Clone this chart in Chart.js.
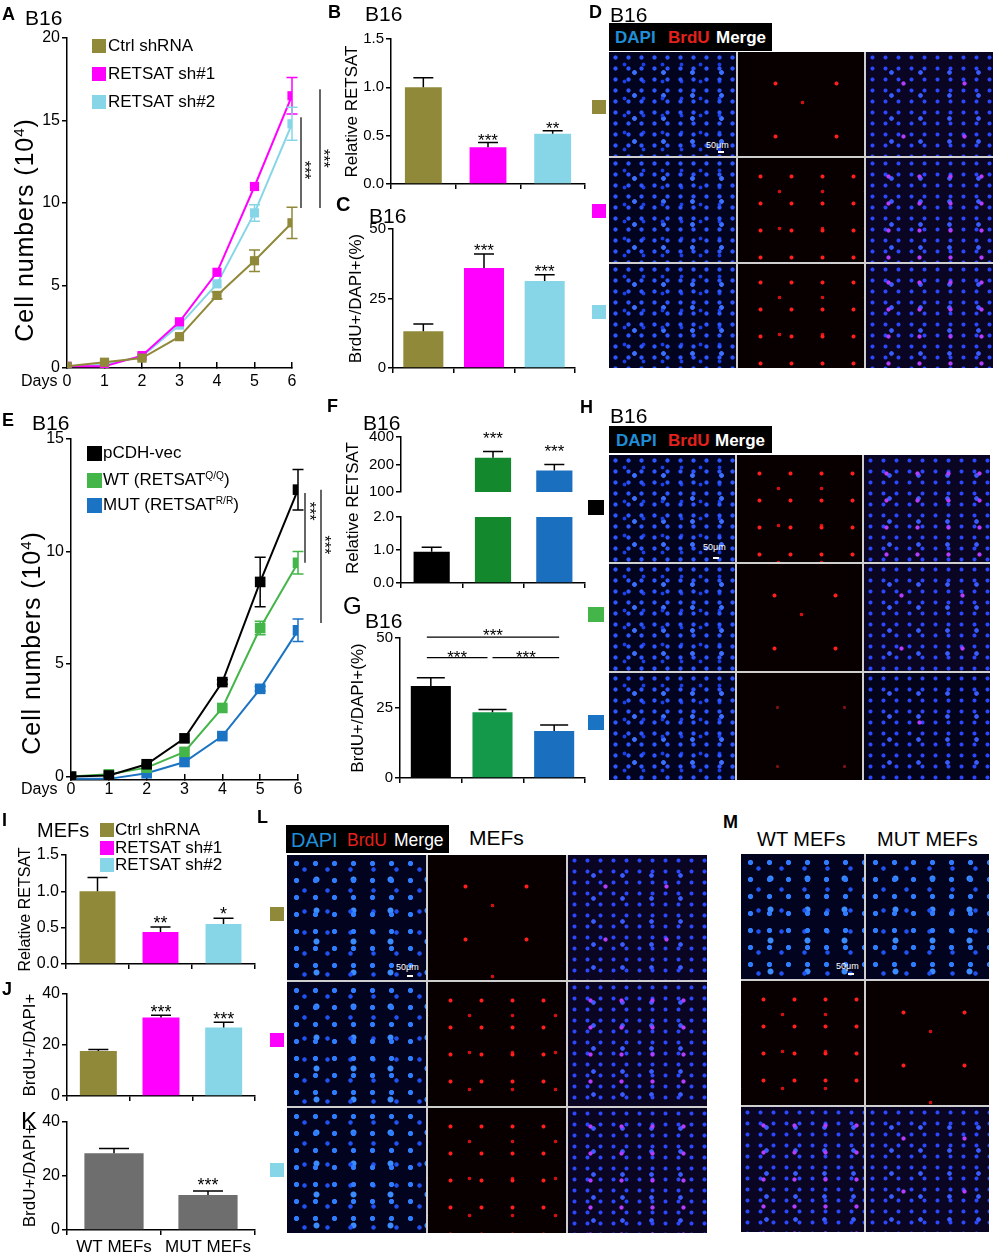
<!DOCTYPE html>
<html lang="en">
<head>
<meta charset="UTF-8">
<title>RETSAT - B16 and MEFs proliferation</title>
<script src="https://cdn.jsdelivr.net/npm/chart.js"></script>
<style>
  body { margin: 0; background: #fff; font-family: Arial, "Liberation Sans", Helvetica, sans-serif; color: #000; }
  #fig { position: relative; width: 996px; height: 1254px; overflow: hidden; }
  #fig canvas { position: absolute; }
  .lt { position: absolute; font-weight: bold; font-size: 18px; line-height: 1; }
  .lt.big { font-weight: normal; font-size: 24px; }
  .t { position: absolute; font-size: 21px; line-height: 1; white-space: nowrap; }
  .leg { position: absolute; font-size: 17px; line-height: 1; white-space: nowrap; }
  .leg sup, .vt sup { font-size: 60%; vertical-align: 0.55em; line-height: 0; }
  .sw { position: absolute; }
  .vt { position: absolute; font-size: 17px; line-height: 1; white-space: nowrap; transform: translate(-50%, -50%) rotate(-90deg); }
  .vt.big { font-size: 25px; letter-spacing: 0.9px; }
  .hdr { position: absolute; background: #000; }
  .hw { position: absolute; line-height: 1; white-space: nowrap; color: #fff; }
  .hw.d { color: #1f8fd8; }
  .hw.r { color: #e3211c; }
  .grid { position: absolute; display: grid; gap: 2px; background: #cfcfcf; }
  .cell { position: relative; overflow: hidden; }
  .sb { position: absolute; color: #fff; font-size: 9px; line-height: 1; }
  .sbl { position: absolute; width: 6px; height: 2px; background: #fff; }
  /* fluorescence tiles: plain styling only */
  .dapi { background-color: #02041f;
    background-image: radial-gradient(circle, #2c56ff 0 1.7px, transparent 2.5px),
                      radial-gradient(circle, #1b3ee6 0 1.5px, transparent 2.3px),
                      radial-gradient(circle, #3b70ff 0 2px, transparent 2.8px);
    background-size: 13px 11px, 19px 17px, 29px 23px;
    background-position: 0 0, 6px 4px, 11px 9px; }
  .dapi.big { background-image: radial-gradient(circle, #2f7dff 0 2.2px, transparent 3px),
                      radial-gradient(circle, #1f52f0 0 1.8px, transparent 2.6px),
                      radial-gradient(circle, #3a8cff 0 2.6px, transparent 3.4px);
    background-size: 19px 17px, 23px 21px, 37px 31px; }
  .brdu { background-color: #080000;
    background-image: radial-gradient(circle, #ff1f1f 0 1.6px, transparent 2.4px),
                      radial-gradient(circle, #d01010 0 1.4px, transparent 2.2px);
    background-size: 31px 27px, 43px 37px;
    background-position: 7px 5px, 20px 15px; }
  .brdu.lo { background-size: 61px 53px, 89px 71px; }
  .brdu.vlo { background-image: radial-gradient(circle, #801010 0 1.2px, transparent 2px); background-size: 67px 59px; }
  .merge { background-color: #0a0522;
    background-image: radial-gradient(circle, #b33cff 0 1.7px, transparent 2.5px),
                      radial-gradient(circle, #2c48ff 0 1.6px, transparent 2.4px),
                      radial-gradient(circle, #3a5cff 0 1.9px, transparent 2.7px);
    background-size: 31px 27px, 13px 11px, 29px 23px;
    background-position: 7px 5px, 0 0, 11px 9px; }
  .merge.lo { background-size: 61px 53px, 13px 11px, 29px 23px; }
  .merge.vlo { background-color: #03041c; background-size: 97px 89px, 13px 11px, 29px 23px; }
</style>
</head>
<body>
<div id="fig">
  <canvas id="cA" width="345" height="395" style="left:0;top:0"></canvas>
  <canvas id="cB" width="270" height="200" style="left:330px;top:0"></canvas>
  <canvas id="cC" width="270" height="185" style="left:330px;top:200px"></canvas>
  <canvas id="cE" width="345" height="400" style="left:0;top:400px"></canvas>
  <canvas id="cF1" width="270" height="103" style="left:330px;top:400px"></canvas>
  <canvas id="cF2" width="270" height="95" style="left:330px;top:505px"></canvas>
  <canvas id="cG" width="270" height="195" style="left:330px;top:600px"></canvas>
  <canvas id="cI" width="270" height="180" style="left:0;top:800px"></canvas>
  <canvas id="cJ" width="270" height="130" style="left:0;top:980px"></canvas>
  <canvas id="cK" width="270" height="144" style="left:0;top:1110px"></canvas>
</div>

<script>
// ---------- data ----------
const days = [0, 1, 2, 3, 4, 5, 6];

// A: B16 growth, shRNA
const shNames = ['Ctrl shRNA', 'RETSAT sh#1', 'RETSAT sh#2'];
const shColors = ['#8f8939', '#ff00ff', '#86d6e8'];
const ctrlGrowth = [0.1, 0.35, 0.6, 1.9, 4.4, 6.5, 8.8];
const ctrlGrowthErr = [0, 0, 0, 0, 0.2, 0.65, 0.95];
const sh1Growth = [0.1, 0.1, 0.75, 2.8, 5.8, 11.0, 16.5];
const sh1GrowthErr = [0, 0, 0, 0, 0, 0, 1.1];
const sh2Growth = [0.1, 0.2, 0.7, 2.6, 5.1, 9.4, 14.8];
const sh2GrowthErr = [0, 0, 0, 0, 0, 0.5, 1.0];
const ticksA = [0, 5, 10, 15, 20];

// B: relative RETSAT, C: BrdU+ (B16 shRNA)
const relB = [1.0, 0.38, 0.52];
const relBErr = [0.1, 0.05, 0.03];
const relBStars = ['', '***', '**'];
const ticksB = [0, 0.5, 1.0, 1.5];
const brduC = [13.2, 36, 31.3];
const brduCErr = [2.6, 5, 2.2];
const brduCStars = ['', '***', '***'];
const ticksC = [0, 25, 50];

// E: B16 growth, re-expression
const vecNames = ['pCDH-vec', 'WT (RETSAT<sup>Q/Q</sup>)', 'MUT (RETSAT<sup>R/R</sup>)'];
const vecColors = ['#000000', '#44b549', '#1b74c3'];
const vecGrowth = [0, 0.05, 0.55, 1.7, 4.2, 8.65, 12.75];
const vecGrowthErr = [0, 0, 0, 0, 0.1, 1.1, 0.9];
const wtGrowth = [0, 0.1, 0.4, 1.1, 3.05, 6.6, 9.5];
const wtGrowthErr = [0, 0, 0, 0, 0, 0.3, 0.5];
const mutGrowth = [-0.1, -0.1, 0.15, 0.65, 1.8, 3.9, 6.5];
const mutGrowthErr = [0, 0, 0, 0, 0, 0.1, 0.5];
const ticksE = [0, 5, 10, 15];

// F: relative RETSAT (broken axis), G: BrdU+
const barColorsF = ['#000000', '#13882c', '#1a6fbf'];
const barColorsG = ['#000000', '#14984a', '#1a6fbf'];
const relF = [0.95, 237, 172];
const relFErr = [0.13, 40, 28];
const relFStars = ['', '***', '***'];
const ticksFHigh = [100, 200, 400];
const ticksFLow = [0, 1.0, 2.0];
const brduG = [32.9, 23.5, 16.8];
const brduGErr = [2.9, 1.0, 2.1];
const ticksG = [0, 25, 50];

// I, J: MEFs shRNA; K: WT vs MUT MEFs
const relI = [1.0, 0.44, 0.55];
const relIErr = [0.19, 0.07, 0.08];
const relIStars = ['', '**', '*'];
const brduJ = [17.6, 30.8, 26.9];
const brduJErr = [0.6, 0.9, 2.0];
const brduJStars = ['', '***', '***'];
const mefNames = ['WT MEFs', 'MUT MEFs'];
const brduK = [28.3, 12.9];
const brduKErr = [1.8, 1.5];
const brduKStars = ['', '***'];
const ticks40 = [0, 20, 40];

// ---------- helpers ----------
const FONT = 'Arial, "Liberation Sans", sans-serif';
Chart.defaults.font.family = FONT;
Chart.defaults.color = '#000';
Chart.defaults.animation = false;
Chart.defaults.plugins.legend.display = false;
Chart.defaults.plugins.tooltip.enabled = false;

const val = d => (d !== null && typeof d === 'object') ? d.y : d;

// error bars (upper half only on bars) and significance stars above them
const errorBars = {
  id: 'errorBars',
  afterDatasetsDraw(chart, args, opts) {
    const { ctx, chartArea: a } = chart;
    const ys = chart.scales.y;
    chart.data.datasets.forEach((ds, i) => {
      const meta = chart.getDatasetMeta(i);
      const isBar = meta.type === 'bar';
      const hw = (opts.cap || 10) / 2;
      ctx.save();
      ctx.beginPath();
      ctx.rect(a.left - 20, a.top - 2, a.right - a.left + 40, a.bottom - a.top + 2);
      ctx.clip();
      ctx.strokeStyle = isBar ? '#000' : ds.borderColor;
      ctx.lineWidth = 1.5;
      (ds.err || []).forEach((e, j) => {
        if (!e) return;
        const v = val(ds.data[j]);
        const x = meta.data[j].x;
        const yTop = ys.getPixelForValue(v + e);
        const yBot = isBar ? ys.getPixelForValue(v) : ys.getPixelForValue(v - e);
        ctx.beginPath();
        ctx.moveTo(x, yBot); ctx.lineTo(x, yTop);
        ctx.moveTo(x - hw, yTop); ctx.lineTo(x + hw, yTop);
        if (!isBar) { ctx.moveTo(x - hw, yBot); ctx.lineTo(x + hw, yBot); }
        ctx.stroke();
      });
      ctx.restore();
      if (ds.stars) {
        const fs = opts.fs || 17;
        ctx.save();
        ctx.fillStyle = '#000';
        ctx.font = fs + 'px ' + FONT;
        ctx.textAlign = 'center';
        ctx.textBaseline = 'alphabetic';
        ds.stars.forEach((s, j) => {
          if (!s) return;
          const top = val(ds.data[j]) + ((ds.err && ds.err[j]) || 0);
          ctx.fillText(s, meta.data[j].x, ys.getPixelForValue(top) - (opts.gap || 4) + 0.43 * fs);
        });
        ctx.restore();
      }
    });
  }
};

// comparison brackets (vertical beside a line plot, horizontal over bars)
const sigMarks = {
  id: 'sigMarks',
  afterDraw(chart, args, opts) {
    if (!opts || (!opts.v && !opts.h)) return;
    const { ctx, chartArea: a, scales: { x, y } } = chart;
    ctx.save();
    ctx.strokeStyle = '#000';
    ctx.fillStyle = '#000';
    ctx.lineWidth = 1.2;
    ctx.font = (opts.fs || 16) + 'px ' + FONT;
    ctx.textAlign = 'center';
    (opts.v || []).forEach(m => {
      const px = a.right + m.dx;
      ctx.beginPath();
      ctx.moveTo(px, y.getPixelForValue(m.from));
      ctx.lineTo(px, y.getPixelForValue(m.to));
      ctx.stroke();
      ctx.save();
      ctx.translate(px + m.tdx, y.getPixelForValue(m.tv));
      ctx.rotate(Math.PI / 2);
      ctx.textBaseline = 'middle';
      ctx.fillText(m.text, 0, 0);
      ctx.restore();
    });
    (opts.h || []).forEach(m => {
      const x0 = x.getPixelForValue(m.i0) + (m.d0 || 0);
      const x1 = x.getPixelForValue(m.i1) + (m.d1 || 0);
      const py = y.getPixelForValue(m.v);
      ctx.beginPath();
      ctx.moveTo(x0, py); ctx.lineTo(x1, py);
      ctx.stroke();
      ctx.textBaseline = 'alphabetic';
      ctx.fillText(m.text, (x0 + x1) / 2, py - m.gap + 0.43 * (opts.fs || 16));
    });
    ctx.restore();
  }
};
Chart.register(errorBars, sigMarks);

function yAxis(o) {
  return {
    type: o.log ? 'logarithmic' : 'linear',
    min: o.min, max: o.max, bounds: 'data',
    afterFit: s => { s.width = o.w; },
    afterBuildTicks: s => { s.ticks = o.ticks.map(v => ({ value: v })); },
    border: { color: '#000', width: 1.5 },
    grid: { drawOnChartArea: false, color: '#000', lineWidth: 1.5, tickLength: 5 },
    ticks: { font: { size: o.fs || 15 }, padding: 2, color: '#000', callback: o.fmt || (v => v) },
    title: { display: !!o.title, text: o.title || '', color: '#000',
             font: { size: o.tfs || 17 }, padding: { top: o.tp || 4, bottom: 0 } }
  };
}

function xCat(h, o = {}) {
  const s = {
    display: o.display !== false,
    border: { color: '#000', width: 1.5 },
    grid: { drawOnChartArea: false, color: '#000', lineWidth: 1.5, tickLength: 5 },
    ticks: { display: !!o.labels, font: { size: o.fs || 17 }, padding: o.pad || 2, color: '#000' }
  };
  if (o.display !== false) s.afterFit = sc => { sc.height = h; };
  return s;
}

function bars(id, labels, vals, errs, stars, colors, o) {
  return new Chart(document.getElementById(id), {
    type: 'bar',
    data: { labels, datasets: [{ data: vals, err: errs, stars, backgroundColor: colors,
                                 barPercentage: o.bp, categoryPercentage: 1, clip: 0 }] },
    options: {
      responsive: false,
      layout: { padding: o.pad },
      scales: { x: o.x, y: o.y },
      plugins: { errorBars: { cap: o.cap || 20, gap: o.gap, fs: o.sfs || 17 }, sigMarks: o.sig || {} }
    }
  });
}

function growth(id, names, colors, series, errs, o) {
  return new Chart(document.getElementById(id), {
    type: 'line',
    data: {
      datasets: series.map((s, i) => ({
        label: names[i],
        data: days.map((d, j) => ({ x: d, y: s[j] })),
        err: errs[i],
        borderColor: colors[i], backgroundColor: colors[i], borderWidth: 2,
        pointStyle: 'rect', pointRadius: o.pr, pointBorderWidth: 0, pointBackgroundColor: colors[i]
      }))
    },
    options: {
      responsive: false,
      layout: { padding: o.pad },
      scales: {
        x: {
          type: 'linear', min: 0, max: 6, bounds: 'data',
          afterFit: s => { s.height = o.xh; },
          afterBuildTicks: s => { s.ticks = days.map(v => ({ value: v })); },
          border: { color: '#000', width: 1.5 },
          grid: { drawOnChartArea: false, color: '#000', lineWidth: 1.5, tickLength: -6 },
          ticks: { font: { size: 16 }, padding: o.xpad, color: '#000' }
        },
        y: yAxis(o.y)
      },
      plugins: { errorBars: { cap: 11 }, sigMarks: o.sig }
    }
  });
}

const fig = document.getElementById('fig');
const add = html => fig.insertAdjacentHTML('beforeend', html);
const fmt1 = v => Number(v).toFixed(1);

// ---------- charts ----------
growth('cA', shNames, shColors, [ctrlGrowth, sh1Growth, sh2Growth],
  [ctrlGrowthErr, sh1GrowthErr, sh2GrowthErr], {
    pr: 6.5, xh: 27, xpad: 10,
    pad: { top: 38, right: 53, left: 0, bottom: 0 },
    y: { min: 0, max: 20, ticks: ticksA, w: 67, fs: 16 },
    sig: { v: [
      { dx: 9, from: 15.2, to: 9.7, tdx: 2, tv: 12.0, text: '***' },
      { dx: 28, from: 16.9, to: 9.7, tdx: 2, tv: 12.7, text: '***' }
    ] }
  });

bars('cB', shNames, relB, relBErr, relBStars, shColors, {
  bp: 0.57, gap: 4, cap: 20,
  pad: { top: 39, right: 15, left: 0, bottom: 0 },
  x: xCat(16),
  y: yAxis({ min: 0, max: 1.5, ticks: ticksB, w: 61, fmt: fmt1, title: 'Relative RETSAT', tfs: 17, tp: 12 })
});

bars('cC', shNames, brduC, brduCErr, brduCStars, shColors, {
  bp: 0.66, gap: 5, cap: 20,
  pad: { top: 29, right: 25, left: 0, bottom: 0 },
  x: xCat(17),
  y: yAxis({ min: 0, max: 50, ticks: ticksC, w: 63, title: 'BrdU+/DAPI+(%)', tfs: 17, tp: 16 })
});

growth('cE', ['pCDH-vec', 'WT', 'MUT'], vecColors, [vecGrowth, wtGrowth, mutGrowth],
  [vecGrowthErr, wtGrowthErr, mutGrowthErr], {
    pr: 7.5, xh: 20, xpad: 6,
    pad: { top: 39, right: 47, left: 0, bottom: 0 },
    y: { min: -0.15, max: 15, ticks: ticksE, w: 71, fs: 16 },
    sig: { v: [
      { dx: 7, from: 12.6, to: 9.5, tdx: 3, tv: 11.8, text: '***' },
      { dx: 23, from: 12.74, to: 6.83, tdx: 2, tv: 10.3, text: '***' }
    ] }
  });

// F: same values on a log upper segment and a linear lower segment
bars('cF1', ['pCDH-vec', 'WT', 'MUT'], relF, relFErr, relFStars, barColorsF, {
  bp: 0.59, gap: 15, cap: 20,
  pad: { top: 37, right: 15, left: 0, bottom: 0 },
  x: xCat(0, { display: false }),
  y: yAxis({ log: true, min: 100, max: 400, ticks: ticksFHigh, w: 71 })
});
bars('cF2', ['pCDH-vec', 'WT', 'MUT'], relF, relFErr, null, barColorsF, {
  bp: 0.59, cap: 20,
  pad: { top: 12, right: 15, left: 0, bottom: 0 },
  x: xCat(17),
  y: yAxis({ min: 0, max: 2, ticks: ticksFLow, w: 71, fmt: fmt1 })
});

bars('cG', ['pCDH-vec', 'WT', 'MUT'], brduG, brduGErr, null, barColorsG, {
  bp: 0.65, cap: 28,
  pad: { top: 38, right: 15, left: 0, bottom: 0 },
  x: xCat(17),
  y: yAxis({ min: 0, max: 50, ticks: ticksG, w: 70, title: 'BrdU+/DAPI+(%)', tfs: 17, tp: 18 }),
  sig: { fs: 17, h: [
    { i0: 0, i1: 2, d0: -4, d1: 5, v: 50.3, gap: 3, text: '***' },
    { i0: 0, i1: 1, d0: -4, d1: -5, v: 43, gap: 1.5, text: '***' },
    { i0: 1, i1: 2, d0: 0, d1: 5, v: 43, gap: 1.5, text: '***' }
  ] }
});

bars('cI', shNames, relI, relIErr, relIStars, shColors, {
  bp: 0.57, gap: 6, cap: 20, sfs: 18,
  pad: { top: 55, right: 15, left: 0, bottom: 0 },
  x: xCat(16),
  y: yAxis({ min: 0, max: 1.5, ticks: ticksB, w: 66, fs: 16, fmt: fmt1, title: 'Relative RETSAT', tfs: 16, tp: 16 })
});

bars('cJ', shNames, brduJ, brduJErr, brduJStars, shColors, {
  bp: 0.59, gap: 5, cap: 20, sfs: 18,
  pad: { top: 14, right: 15, left: 0, bottom: 0 },
  x: xCat(14),
  y: yAxis({ min: 0, max: 40, ticks: ticks40, w: 67, fs: 16, title: 'BrdU+/DAPI+', tfs: 17, tp: 20 })
});

bars('cK', mefNames, brduK, brduKErr, brduKStars, ['#6e6e6e', '#6e6e6e'], {
  bp: 0.63, gap: 8, cap: 30, sfs: 18,
  pad: { top: 8, right: 15, left: 0, bottom: 0 },
  x: xCat(24, { labels: true, fs: 17, pad: 2 }),
  y: yAxis({ min: 0, max: 40, ticks: ticks40, w: 67, fs: 16, title: 'BrdU+/DAPI+', tfs: 17, tp: 20 })
});

// ---------- legends ----------
function legend(names, colors, sx, tx, tops, sw) {
  names.forEach((n, i) => {
    add(`<div class="sw" style="left:${sx}px;top:${tops[i]}px;width:${sw}px;height:${sw}px;background:${colors[i]}"></div>`);
    add(`<div class="leg" style="left:${tx}px;top:${tops[i] - 2}px">${n}</div>`);
  });
}
legend(shNames, shColors, 92, 108, [39, 67, 95], 14);
legend(vecNames, vecColors, 87, 103, [446, 473, 498], 15);
legend(shNames, shColors, 100, 115, [823, 840.5, 858], 14);

// ---------- labels ----------
[['A', 2, 5], ['B', 328, 3], ['D', 589, 3], ['E', 2, 411], ['F', 327, 397], ['H', 580, 398],
 ['I', 2, 811], ['J', 2, 980], ['L', 257, 808], ['M', 723, 813]]
  .forEach(([s, x, y]) => add(`<div class="lt" style="left:${x}px;top:${y}px">${s}</div>`));
add('<div class="lt" style="left:336px;top:194px;font-size:20px">C</div>');
add('<div class="lt big" style="left:343px;top:594px">G</div>');
add('<div class="lt big" style="left:21px;top:1109px">K</div>');

[[25, 7], [365, 3], [369, 205], [610, 4], [32, 412], [363, 412], [365, 610], [610, 405]]
  .forEach(([x, y]) => add(`<div class="t" style="left:${x}px;top:${y}px">B16</div>`));
add('<div class="t" style="left:37px;top:820px;font-size:20px">MEFs</div>');
add('<div class="t" style="left:469px;top:827px">MEFs</div>');
add('<div class="t" style="left:757px;top:829px;font-size:20px">WT MEFs</div>');
add('<div class="t" style="left:877px;top:829px;font-size:20px">MUT MEFs</div>');
add('<div class="t" style="left:21px;top:373px;font-size:16px">Days</div>');
add('<div class="t" style="left:21px;top:781px;font-size:16px">Days</div>');
add('<div class="vt big" style="left:24px;top:230px">Cell numbers (10<sup>4</sup>)</div>');
add('<div class="vt big" style="left:31px;top:643px">Cell numbers (10<sup>4</sup>)</div>');
add('<div class="vt" style="left:352px;top:508px">Relative RETSAT</div>');

// ---------- image panels (placeholders for micrographs) ----------
// words: [text, class, left, top, fontSize]
function header(x, y, w, h, bold, words) {
  add(`<div class="hdr" style="left:${x}px;top:${y}px;width:${w}px;height:${h}px"></div>`);
  words.forEach(([s, c, l, t, fs]) =>
    add(`<div class="hw ${c}" style="left:${l}px;top:${t}px;font-size:${fs}px;font-weight:${bold ? 'bold' : 'normal'}">${s}</div>`));
}
function micro(x, y, w, h, rows, bar) {
  let cells = '';
  rows.forEach(r => r.forEach(c => { cells += `<div class="cell ${c}"></div>`; }));
  add(`<div class="grid" style="left:${x}px;top:${y}px;width:${w}px;height:${h}px;` +
      `grid-template-columns:repeat(${rows[0].length},1fr);grid-template-rows:repeat(${rows.length},1fr)">${cells}</div>`);
  const first = fig.lastElementChild.firstElementChild;
  first.innerHTML = `<span class="sb" style="left:${bar[0]}px;top:${bar[1]}px">50μm</span>` +
                    `<i class="sbl" style="left:${bar[2]}px;top:${bar[3]}px"></i>`;
}
function swatch(x, y, w, h, c) {
  add(`<div class="sw" style="left:${x}px;top:${y}px;width:${w}px;height:${h}px;background:${c}"></div>`);
}

header(609, 23, 163, 28, true, [['DAPI', 'd', 615, 29, 17], ['BrdU', 'r', 668, 29, 17], ['Merge', '', 716, 29, 17]]);
micro(609, 52, 384, 316, [
  ['dapi', 'brdu lo', 'merge lo'],
  ['dapi', 'brdu', 'merge'],
  ['dapi', 'brdu', 'merge']
], [97, 89, 109, 99]);
swatch(592, 100, 14, 14, shColors[0]);
swatch(592, 204, 14, 14, shColors[1]);
swatch(592, 305, 14, 14, shColors[2]);

header(609, 426, 163, 27, true, [['DAPI', 'd', 616, 432, 17], ['BrdU', 'r', 668, 432, 17], ['Merge', '', 715, 432, 17]]);
micro(609, 455, 381, 325, [
  ['dapi', 'brdu', 'merge'],
  ['dapi', 'brdu lo', 'merge lo'],
  ['dapi', 'brdu vlo', 'merge vlo']
], [94, 88, 104, 102]);
swatch(588, 500, 16, 15, vecColors[0]);
swatch(588, 607, 16, 15, vecColors[1]);
swatch(588, 715, 16, 15, vecColors[2]);

header(286, 825, 163, 28, false, [['DAPI', 'd', 291, 830, 20], ['BrdU', 'r', 347, 832, 17.5], ['Merge', '', 394, 832, 17.5]]);
micro(287, 855, 420, 378, [
  ['dapi big', 'brdu lo', 'merge lo'],
  ['dapi big', 'brdu', 'merge'],
  ['dapi big', 'brdu', 'merge']
], [109, 108, 120, 120]);
swatch(270, 907, 14, 14, shColors[0]);
swatch(270, 1033, 14, 14, shColors[1]);
swatch(270, 1163, 14, 14, shColors[2]);

micro(741, 854, 248, 378, [
  ['dapi big', 'dapi big'],
  ['brdu', 'brdu lo'],
  ['merge', 'merge lo']
], [95, 108, 107, 119]);
</script>
</body>
</html>
